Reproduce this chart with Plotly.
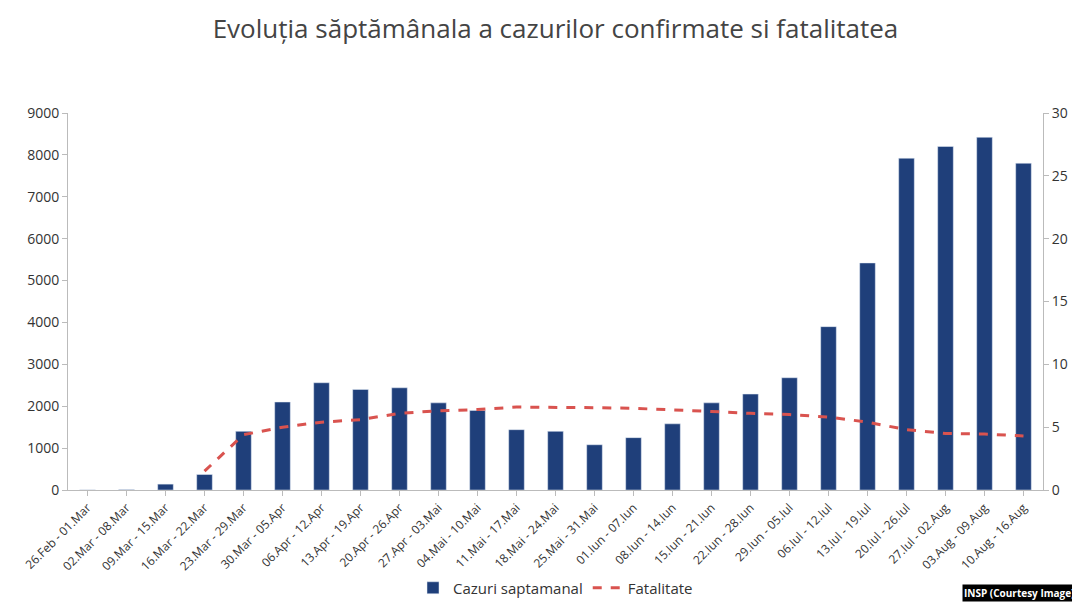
import plotly.graph_objects as go

weeks = ["26.Feb - 01.Mar", "02.Mar - 08.Mar", "09.Mar - 15.Mar", "16.Mar - 22.Mar",
         "23.Mar - 29.Mar", "30.Mar - 05.Apr", "06.Apr - 12.Apr", "13.Apr - 19.Apr",
         "20.Apr - 26.Apr", "27.Apr - 03.Mai", "04.Mai - 10.Mai", "11.Mai - 17.Mai",
         "18.Mai - 24.Mai", "25.Mai - 31.Mai", "01.Iun - 07.Iun", "08.Iun - 14.Iun",
         "15.Iun - 21.Iun", "22.Iun - 28.Iun", "29.Iun - 05.Iul", "06.Iul - 12.Iul",
         "13.Iul - 19.Iul", "20.Iul - 26.Iul", "27.Iul - 02.Aug", "03.Aug - 09.Aug",
         "10.Aug - 16.Aug"]
cazuri = [3, 10, 140, 370, 1400, 2100, 2560, 2400, 2440, 2080, 1900, 1440, 1400,
          1080, 1250, 1580, 2080, 2290, 2680, 3900, 5420, 7920, 8200, 8420, 7800]
fatalitate = [None, None, None, 1.5, 4.4, 5.0, 5.4, 5.6, 6.1, 6.3, 6.4, 6.6, 6.6,
              6.55, 6.5, 6.4, 6.25, 6.1, 6.0, 5.8, 5.4, 4.8, 4.5, 4.45, 4.3]

fig = go.Figure()
fig.add_trace(go.Bar(x=weeks, y=cazuri, name="Cazuri saptamanal",
                     marker_color="#1f3f7a", width=0.4))
fig.add_trace(go.Scatter(x=weeks, y=fatalitate, name="Fatalitate", yaxis="y2",
                         mode="lines", line=dict(color="#d9534f", width=3, dash="dash")))

fig.update_layout(
    title=dict(text="Evoluția săptămânala a cazurilor confirmate si fatalitatea",
               x=0.5, xref="paper", y=0.965, xanchor="center", yanchor="middle",
               font=dict(size=26, color="#444")),
    font=dict(family="Open Sans", color="#333"),
    width=1080, height=608,
    margin=dict(l=60, r=45, t=105, b=119),
    plot_bgcolor="white", paper_bgcolor="white",
    xaxis=dict(tickangle=-45, tickfont=dict(size=12), showline=True, automargin=False,
               linecolor="#bbb", ticks="outside", tickcolor="#bbb"),
    yaxis=dict(range=[0, 9000], dtick=1000, showgrid=False, showline=True, automargin=False,
               linecolor="#bbb", ticks="outside", tickcolor="#bbb", tickfont=dict(size=14)),
    yaxis2=dict(range=[0, 30], dtick=5, overlaying="y", side="right", showgrid=False,
                showline=True, linecolor="#bbb", ticks="outside", tickcolor="#bbb",
                tickfont=dict(size=14), automargin=False),
    legend=dict(orientation="h", x=0.5, xanchor="center", y=-0.26, yanchor="middle",
                font=dict(size=15)),
    bargap=0.5,
)
fig.add_annotation(text="<b>INSP (Courtesy Image)</b>", xref="paper", yref="paper",
                   x=1.035, y=-0.25, xanchor="right", yanchor="top", showarrow=False,
                   bgcolor="black", font=dict(color="white", size=10))
fig.write_html("out.html")
